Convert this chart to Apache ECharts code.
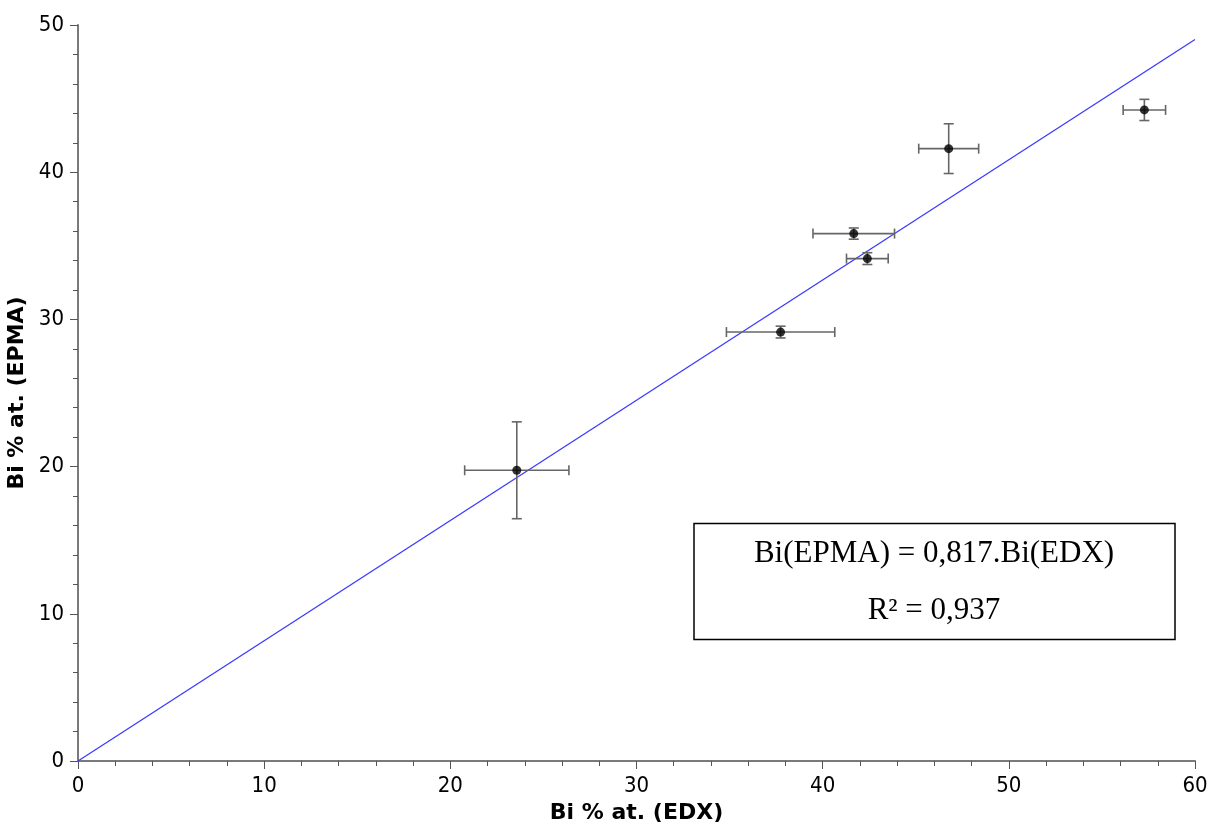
<!DOCTYPE html>
<html>
<head>
<meta charset="utf-8">
<script src="https://cdn.jsdelivr.net/npm/echarts@6/dist/echarts.min.js"></script>
<style>html,body{margin:0;padding:0;background:#fff}#c{width:1210px;height:823px}</style>
</head>
<body>
<div id="c"></div>
<script>
// Data
const edx      = [23.57, 37.74, 41.67, 42.40, 46.77, 57.28];
const epma     = [19.75, 29.14, 35.83, 34.13, 41.60, 44.23];
const edxErr   = [2.80, 2.91, 2.19, 1.12, 1.61, 1.14];
const epmaErr  = [3.29, 0.40, 0.38, 0.40, 1.69, 0.72];
const fitLine  = [[0, 0], [60, 49.02]];
const xTicks   = [0, 10, 20, 30, 40, 50, 60];
const yTicks   = [0, 10, 20, 30, 40, 50];
const xTitle   = 'Bi % at. (EDX)';
const yTitle   = 'Bi % at. (EPMA)';
const eqText   = 'Bi(EPMA) = 0,817.Bi(EDX)';
const r2Text   = 'R² = 0,937';

const points = edx.map((x, i) => [x, epma[i]]);
const errData = edx.map((x, i) => [x, epma[i], edxErr[i], epmaErr[i]]);

const chart = echarts.init(document.getElementById('c'), null, {renderer: 'canvas'});
const labelFont = '"DejaVu Sans Condensed", "DejaVu Sans", sans-serif';
const axisCommon = {
  axisLine: {show: true, onZero: false, lineStyle: {color: '#7a7a7a', width: 2}},
  axisTick: {show: true, inside: false, length: 8, lineStyle: {color: '#555', width: 1}},
  minorTick: {show: true, splitNumber: 5, length: 5, lineStyle: {color: '#555', width: 1}},
  splitLine: {show: false},
  axisLabel: {color: '#000', fontSize: 22, fontFamily: labelFont, margin: 14},
  nameLocation: 'middle',
  nameTextStyle: {color: '#000', fontSize: 22, fontWeight: 'bold', fontFamily: '"DejaVu Sans", sans-serif'}
};

chart.setOption({
  animation: false,
  backgroundColor: '#fff',
  grid: {left: 78, right: 15, top: 25, bottom: 62, outerBoundsMode: 'none', containLabel: false},
  xAxis: Object.assign({}, axisCommon, {
    type: 'value', min: xTicks[0], max: xTicks[xTicks.length - 1], interval: 10,
    name: xTitle, nameGap: 35
  }),
  yAxis: Object.assign({}, axisCommon, {
    type: 'value', min: yTicks[0], max: yTicks[yTicks.length - 1], interval: 10,
    name: yTitle, nameGap: 43, nameRotate: 90
  }),
  series: [
    {
      type: 'line', data: fitLine, symbol: 'none',
      lineStyle: {color: '#3b3bff', width: 1.3}, z: 2
    },
    {
      type: 'custom', data: errData, z: 3,
      renderItem: function (params, api) {
        const x = api.value(0), y = api.value(1), ex = api.value(2), ey = api.value(3);
        const l = api.coord([x - ex, y]), r = api.coord([x + ex, y]);
        const t = api.coord([x, y + ey]), b = api.coord([x, y - ey]);
        const cap = 5;
        const st = {stroke: '#666', lineWidth: 1.6, fill: null};
        const mk = (x1, y1, x2, y2) => ({type: 'line', shape: {x1, y1, x2, y2}, style: st});
        return {type: 'group', children: [
          mk(l[0], l[1], r[0], r[1]),
          mk(l[0], l[1] - cap, l[0], l[1] + cap),
          mk(r[0], r[1] - cap, r[0], r[1] + cap),
          mk(t[0], t[1], b[0], b[1]),
          mk(t[0] - cap, t[1], t[0] + cap, t[1]),
          mk(b[0] - cap, b[1], b[0] + cap, b[1])
        ]};
      }
    },
    {
      type: 'scatter', data: points, symbol: 'circle', symbolSize: 9,
      itemStyle: {color: '#000'}, z: 4
    }
  ],
  graphic: [
    {type: 'rect', shape: {x: 694, y: 523.5, width: 481, height: 116},
     style: {fill: '#fff', stroke: '#000', lineWidth: 1.5}, z: 10},
    {type: 'text', x: 934, y: 554, z: 11,
     style: {text: eqText, font: '31px "Liberation Serif", "Times New Roman", serif', fill: '#000', align: 'center', verticalAlign: 'middle'}},
    {type: 'text', x: 934, y: 611, z: 11,
     style: {text: r2Text, font: '31px "Liberation Serif", "Times New Roman", serif', fill: '#000', align: 'center', verticalAlign: 'middle'}}
  ]
});
</script>
</body>
</html>
